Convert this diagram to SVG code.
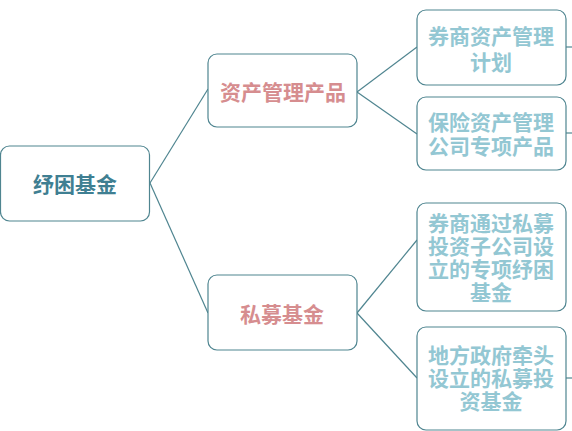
<svg xmlns="http://www.w3.org/2000/svg" width="572" height="431" viewBox="0 0 572 431">
<style>
.box{fill:#ffffff;stroke:#4f8590;stroke-width:1.2}
.ln{stroke:#4f8590;stroke-width:1.2;fill:none}
text{font-family:"Noto Sans CJK SC","Noto Sans CJK TC",sans-serif;font-weight:bold;text-anchor:middle;dominant-baseline:central}
.t0{fill:#3f7f92;font-size:21px}
.t1{fill:#d68d8f;font-size:21px}
.t2{fill:#93c7d3;font-size:21px}
</style>
<rect width="572" height="431" fill="#ffffff"/>
<g id="connectors">
<line class="ln" x1="150" y1="183" x2="208" y2="89"/>
<line class="ln" x1="150" y1="183" x2="208" y2="313"/>
<line class="ln" x1="357" y1="92" x2="417" y2="47"/>
<line class="ln" x1="357" y1="92" x2="417" y2="134"/>
<line class="ln" x1="357" y1="313" x2="417" y2="240"/>
<line class="ln" x1="357" y1="313" x2="417" y2="378"/>
<line class="ln" x1="566" y1="47" x2="572" y2="47"/>
<line class="ln" x1="566" y1="133" x2="572" y2="133"/>
<line class="ln" x1="566" y1="378" x2="572" y2="378"/>
</g>
<g id="n0">
<rect class="box" x="0.5" y="146" width="149" height="75" rx="9"/>
<text class="t0" x="75" y="183">纾困基金</text>
</g>
<g id="n1">
<rect class="box" x="208" y="54" width="149" height="73" rx="9"/>
<text class="t1" x="283" y="91">资产管理产品</text>
</g>
<g id="n2">
<rect class="box" x="208" y="275" width="149" height="75" rx="9"/>
<text class="t1" x="282" y="313">私募基金</text>
</g>
<g id="n3">
<rect class="box" x="417" y="10" width="149" height="75" rx="9"/>
<text class="t2" x="491" y="35">券商资产管理</text>
<text class="t2" x="491" y="61">计划</text>
</g>
<g id="n4">
<rect class="box" x="417" y="97" width="149" height="73" rx="9"/>
<text class="t2" x="491" y="121">保险资产管理</text>
<text class="t2" x="491" y="145">公司专项产品</text>
</g>
<g id="n5">
<rect class="box" x="417" y="203" width="149" height="108" rx="9"/>
<text class="t2" x="491" y="222">券商通过私募</text>
<text class="t2" x="491" y="245">投资子公司设</text>
<text class="t2" x="491" y="268">立的专项纾困</text>
<text class="t2" x="491" y="291">基金</text>
</g>
<g id="n6">
<rect class="box" x="417" y="327" width="149" height="103" rx="9"/>
<text class="t2" x="491" y="354">地方政府牵头</text>
<text class="t2" x="491" y="377">设立的私募投</text>
<text class="t2" x="491" y="400">资基金</text>
</g>
</svg>
